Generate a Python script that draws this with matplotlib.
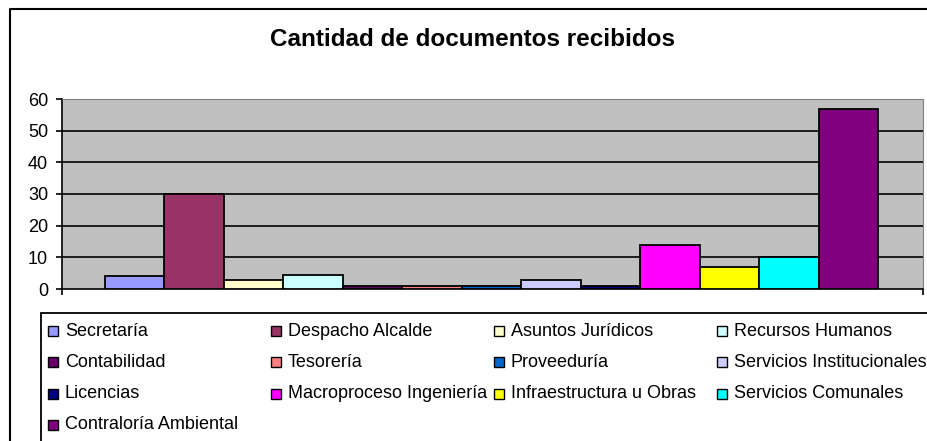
import matplotlib.pyplot as plt
from matplotlib.patches import Rectangle
from matplotlib.lines import Line2D

plt.rcParams['font.family'] = ['Liberation Sans', 'DejaVu Sans']

title = "Cantidad de documentos recibidos"
areas = ["Secretaría", "Despacho Alcalde", "Asuntos Jurídicos", "Recursos Humanos",
         "Contabilidad", "Tesorería", "Proveeduría", "Servicios Institucionales",
         "Licencias", "Macroproceso Ingeniería", "Infraestructura u Obras",
         "Servicios Comunales", "Contraloría Ambiental"]
documentos = [4, 30, 3, 4.5, 1, 1, 1, 3, 1, 14, 7, 10, 57]
colores = ["#9999FF", "#993366", "#FFFFCC", "#CCFFFF", "#660066", "#FF8080",
           "#0066CC", "#CCCCFF", "#000080", "#FF00FF", "#FFFF00", "#00FFFF",
           "#800080"]
y_ticks = [0, 10, 20, 30, 40, 50, 60]

W, H = 927, 441
fig = plt.figure(figsize=(W / 100, H / 100), dpi=100)

# plot area in pixels: x 62..923, y 99..289
ax = fig.add_axes([62 / W, (H - 289) / H, (923 - 62) / W, (289 - 99) / H])
ax.set_facecolor("#C0C0C0")

for i, (nombre, v, c) in enumerate(zip(areas, documentos, colores)):
    ax.bar(i, v, width=1.0, color=c, edgecolor="black", linewidth=1.3,
           label=nombre, zorder=3)

ax.set_xlim(-1.223, 13.257)
ax.set_ylim(0, 60)
ax.set_yticks(y_ticks)
ax.set_yticklabels([str(t) for t in y_ticks], fontsize=13)
for t in y_ticks[1:-1]:
    ax.axhline(t, color="black", linewidth=1.2, zorder=1)

ax.set_xticks([-1.223, 13.257])
ax.set_xticklabels([])
ax.tick_params(axis="x", direction="out", length=4, width=1.2)
ax.tick_params(axis="y", direction="out", length=4, width=1.2, pad=6)

ax.spines["left"].set_color("black")
ax.spines["bottom"].set_color("black")
ax.spines["left"].set_linewidth(1.2)
ax.spines["bottom"].set_linewidth(1.2)
ax.spines["top"].set_color("#808080")
ax.spines["right"].set_color("#808080")

fig.text(473 / W, 1 - 40 / H, title, ha="center", va="center",
         fontsize=17.5, fontweight="bold")

# chart area border (left and top edges visible)
fig.add_artist(Line2D([10 / W, 10 / W, 1.02], [-0.02, 1 - 9 / H, 1 - 9 / H],
                      transform=fig.transFigure, color="black", linewidth=1.5))

# legend box, extends past the right and bottom edges
fig.add_artist(Rectangle((41 / W, -0.05), 1.0, 1 - 313 / H + 0.05,
                         transform=fig.transFigure, facecolor="white",
                         edgecolor="black", linewidth=1.3))

for k, (nombre, c) in enumerate(zip(areas, colores)):
    col, row = k % 4, k // 4
    mx = 48 + 223 * col
    my = 331 + 31.3 * row
    fig.add_artist(Rectangle((mx / W, 1 - (my + 5) / H), 10 / W, 10 / H,
                             transform=fig.transFigure, facecolor=c,
                             edgecolor="black", linewidth=1.0))
    fig.text((mx + 17) / W, 1 - my / H, nombre, ha="left", va="center",
             fontsize=13)

fig.savefig("out.png", dpi=100)
